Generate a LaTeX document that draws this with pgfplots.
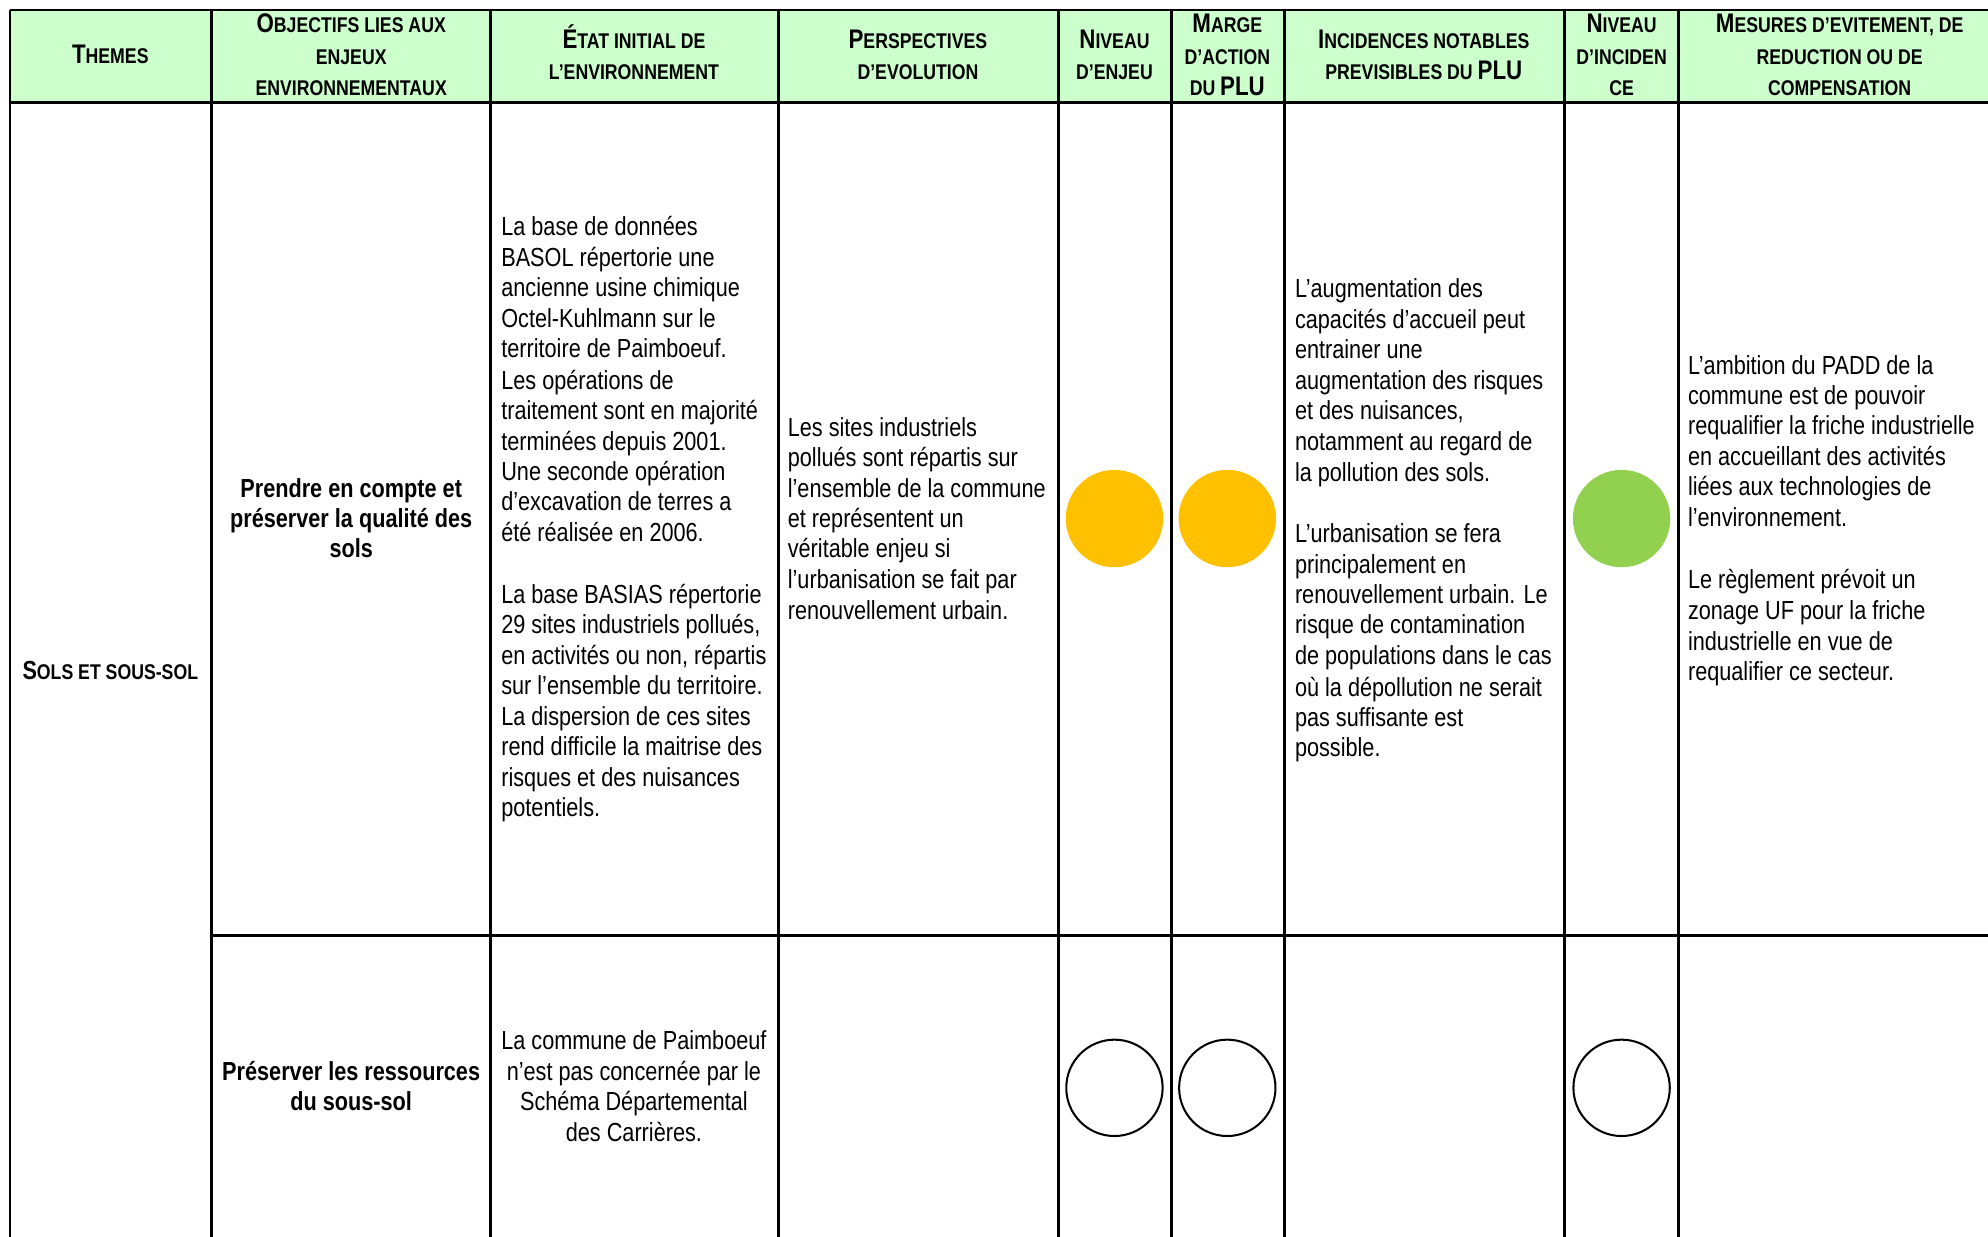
\documentclass[border=0pt]{standalone}
\usepackage{pgfplots}
\pgfplotsset{compat=1.18}
\usepackage{fontspec}
\setmainfont{Liberation Sans}[FakeStretch=0.83]
\definecolor{hdr}{HTML}{CCFFCC}
\definecolor{orangeC}{HTML}{FFC000}
\definecolor{greenC}{HTML}{92D050}
\newcommand\sm[1]{{\fontsize{8.4}{10}\selectfont #1}}
\newcommand\HL[3]{\node[anchor=base,inner sep=0pt,font=\bfseries\fontsize{10.6}{12}\selectfont] at (axis cs:#1,#2+6) {#3};}
\newcommand\TL[3]{\node[anchor=base west,inner sep=0pt,font=\fontsize{10.3}{12}\selectfont] at (axis cs:#1,#2+6) {#3};}
\newcommand\TC[3]{\node[anchor=base,inner sep=0pt,font=\fontsize{10.3}{12}\selectfont] at (axis cs:#1,#2+6) {#3};}
\newcommand\BC[3]{\node[anchor=base,inner sep=0pt,font=\bfseries\fontsize{10.3}{12}\selectfont] at (axis cs:#1,#2+6) {#3};}
\begin{document}
\begin{tikzpicture}
\begin{axis}[
  x=0.5pt, y=0.5pt, y dir=reverse,
  xmin=0, xmax=1568, ymin=0, ymax=975,
  hide axis, clip=false, scale only axis,
]
\coordinate (TL) at (axis cs:0,0);
\coordinate (BR) at (axis cs:1568,975);
% header fill
\fill[hdr] (axis cs:8,8) rectangle (axis cs:1568,81);
% grid lines
\draw[line width=1pt] (axis cs:8,8) -- (axis cs:1568,8);
\draw[line width=1pt] (axis cs:8,81) -- (axis cs:1568,81);
\draw[line width=1pt] (axis cs:167,738) -- (axis cs:1568,738);
\foreach \xx in {8,167,387,614,835,924,1013,1234,1324}{
  \edef\tmp{\noexpand\draw[line width=1pt] (axis cs:\xx,8) -- (axis cs:\xx,980);}\tmp
}
% header texts
\HL{87}{44}{T\sm{HEMES}}
\HL{277}{20}{O\sm{BJECTIFS LIES AUX}}
\HL{277}{45}{\sm{ENJEUX}}
\HL{277}{69}{\sm{ENVIRONNEMENTAUX}}
\HL{500}{32}{É\sm{TAT INITIAL DE}}
\HL{500}{57}{\sm{L’ENVIRONNEMENT}}
\HL{724}{32}{P\sm{ERSPECTIVES}}
\HL{724}{57}{\sm{D’EVOLUTION}}
\HL{879}{32}{N\sm{IVEAU}}
\HL{879}{57}{\sm{D’ENJEU}}
\HL{968}{20}{M\sm{ARGE}}
\HL{968}{45}{\sm{D’ACTION}}
\HL{968}{69}{\sm{DU }PLU}
\HL{1123}{32}{I\sm{NCIDENCES NOTABLES}}
\HL{1123}{57}{\sm{PREVISIBLES DU }PLU}
\HL{1279}{20}{N\sm{IVEAU}}
\HL{1279}{45}{\sm{D’INCIDEN}}
\HL{1279}{69}{\sm{CE}}
\HL{1451}{20}{M\sm{ESURES D’EVITEMENT, DE}}
\HL{1451}{45}{\sm{REDUCTION OU DE}}
\HL{1451}{69}{\sm{COMPENSATION}}
% theme
\BC{87}{530}{S\sm{OLS ET SOUS-SOL}}
% row 1
\BC{277}{386}{Prendre en compte et}
\BC{277}{410}{préserver la qualité des}
\BC{277}{434}{sols}
\TL{395}{180}{La base de données}
\TL{395}{204}{BASOL répertorie une}
\TL{395}{228}{ancienne usine chimique}
\TL{395}{252}{Octel-Kuhlmann sur le}
\TL{395}{276}{territoire de Paimboeuf.}
\TL{395}{301}{Les opérations de}
\TL{395}{325}{traitement sont en majorité}
\TL{395}{349}{terminées depuis 2001.}
\TL{395}{373}{Une seconde opération}
\TL{395}{397}{d’excavation de terres a}
\TL{395}{421}{été réalisée en 2006.}
\TL{395}{470}{La base BASIAS répertorie}
\TL{395}{494}{29 sites industriels pollués,}
\TL{395}{518}{en activités ou non, répartis}
\TL{395}{542}{sur l’ensemble du territoire.}
\TL{395}{566}{La dispersion de ces sites}
\TL{395}{590}{rend difficile la maitrise des}
\TL{395}{614}{risques et des nuisances}
\TL{395}{638}{potentiels.}
\TL{621}{338}{Les sites industriels}
\TL{621}{362}{pollués sont répartis sur}
\TL{621}{386}{l’ensemble de la commune}
\TL{621}{410}{et représentent un}
\TL{621}{434}{véritable enjeu si}
\TL{621}{458}{l’urbanisation se fait par}
\TL{621}{483}{renouvellement urbain.}
\TL{1021}{229}{L’augmentation des}
\TL{1021}{253}{capacités d’accueil peut}
\TL{1021}{277}{entrainer une}
\TL{1021}{301}{augmentation des risques}
\TL{1021}{325}{et des nuisances,}
\TL{1021}{349}{notamment au regard de}
\TL{1021}{374}{la pollution des sols.}
\TL{1021}{422}{L’urbanisation se fera}
\TL{1021}{446}{principalement en}
\TL{1021}{470}{renouvellement urbain. Le}
\TL{1021}{494}{risque de contamination}
\TL{1021}{518}{de populations dans le cas}
\TL{1021}{543}{où la dépollution ne serait}
\TL{1021}{567}{pas suffisante est}
\TL{1021}{591}{possible.}
\TL{1331}{289}{L’ambition du PADD de la}
\TL{1331}{313}{commune est de pouvoir}
\TL{1331}{337}{requalifier la friche industrielle}
\TL{1331}{361}{en accueillant des activités}
\TL{1331}{385}{liées aux technologies de}
\TL{1331}{409}{l’environnement.}
\TL{1331}{458}{Le règlement prévoit un}
\TL{1331}{483}{zonage UF pour la friche}
\TL{1331}{507}{industrielle en vue de}
\TL{1331}{531}{requalifier ce secteur.}
% row 2
\BC{277}{846}{Préserver les ressources}
\BC{277}{870}{du sous-sol}
\TC{500}{822}{La commune de Paimboeuf}
\TC{500}{846}{n’est pas concernée par le}
\TC{500}{870}{Schéma Départemental}
\TC{500}{894}{des Carrières.}
% level circles (data)
\addplot[only marks, mark=*, mark size=19pt, color=orangeC, mark options={fill=orangeC, draw=orangeC}]
  coordinates {(879,409) (968,409)};
\addplot[only marks, mark=*, mark size=19pt, color=greenC, mark options={fill=greenC, draw=greenC}]
  coordinates {(1279,409)};
\addplot[only marks, mark=*, mark size=19pt, color=black, mark options={fill=white, draw=black, line width=0.8pt}]
  coordinates {(879,858) (968,858) (1279,858)};
\end{axis}
\pgfresetboundingbox
\path (TL) rectangle (BR);
\end{tikzpicture}
\end{document}
